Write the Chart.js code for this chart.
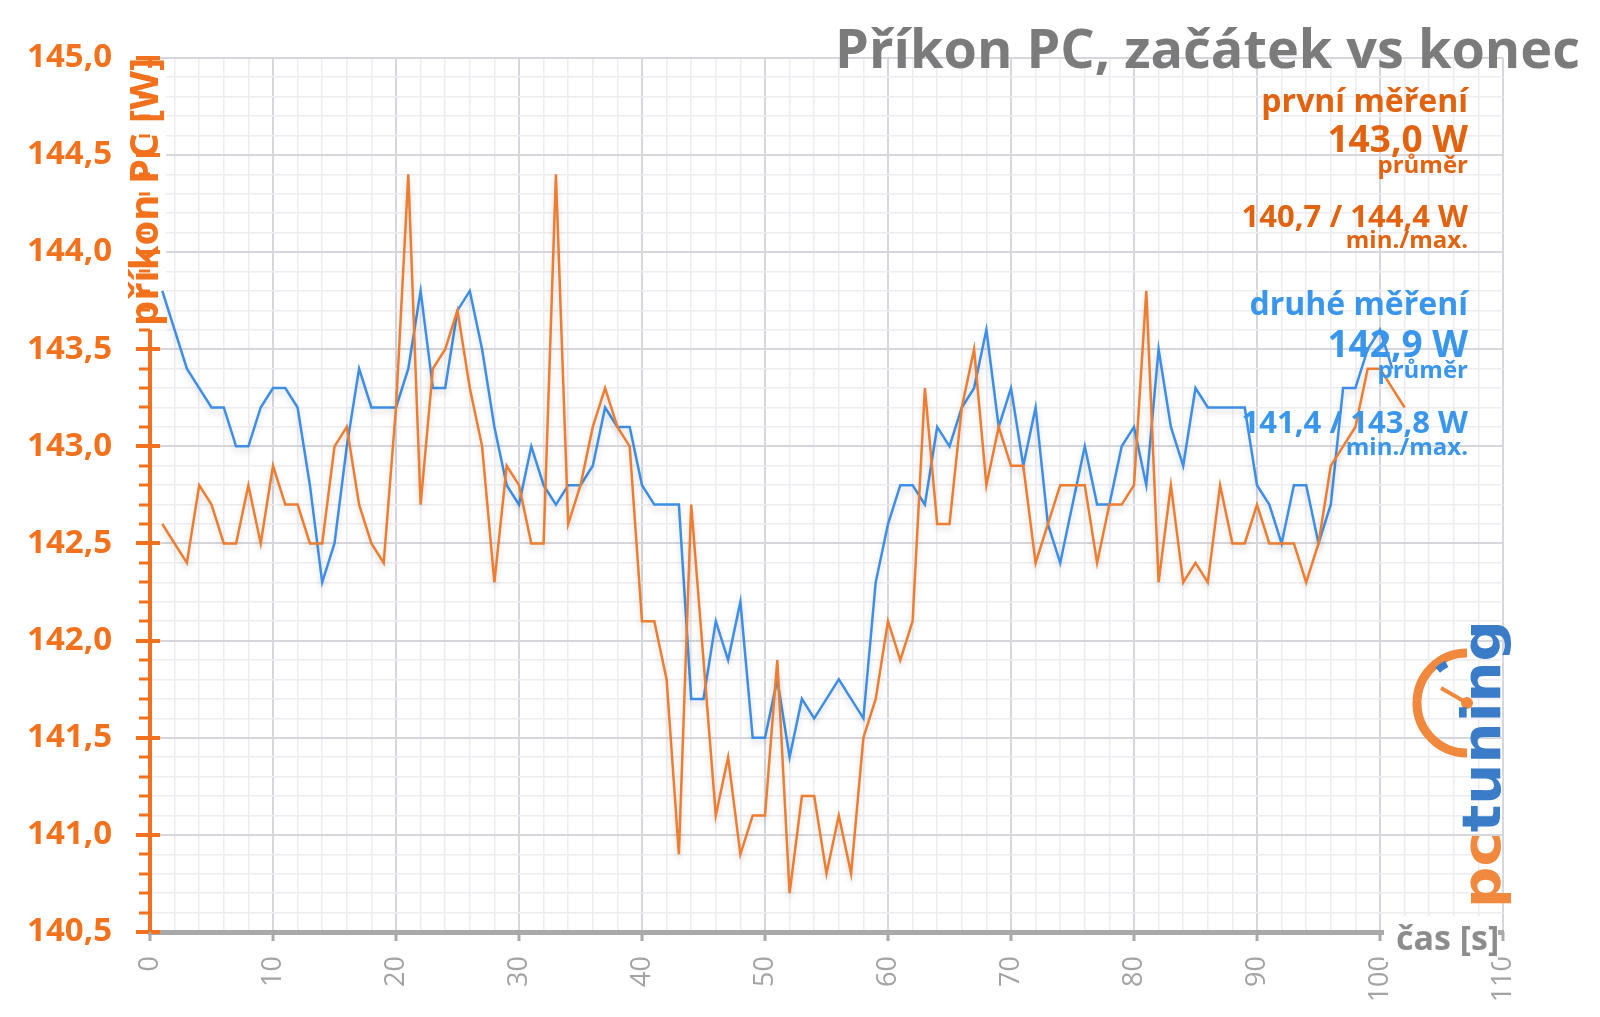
<!DOCTYPE html>
<html lang="cs">
<head>
<meta charset="utf-8">
<title>Příkon PC, začátek vs konec</title>
<script src="https://cdn.jsdelivr.net/npm/chart.js@4.4.1/dist/chart.umd.min.js"></script>
<style>
    html, body { margin: 0; padding: 0; background: #fff; }
    #wrap { width: 1600px; height: 1017px; }
</style>
</head>
<body>
<div id="wrap"><canvas id="chart" width="1600" height="1017"></canvas></div>
<script>
// Příkon PC - první vs druhé měření (W), čas v sekundách

const seconds = [
    1, 2, 3, 4, 5, 6, 7, 8, 9, 10, 11, 12, 13, 14, 15, 16, 17, 18, 19, 20,
    21, 22, 23, 24, 25, 26, 27, 28, 29, 30, 31, 32, 33, 34, 35, 36, 37, 38, 39, 40,
    41, 42, 43, 44, 45, 46, 47, 48, 49, 50, 51, 52, 53, 54, 55, 56, 57, 58, 59, 60,
    61, 62, 63, 64, 65, 66, 67, 68, 69, 70, 71, 72, 73, 74, 75, 76, 77, 78, 79, 80,
    81, 82, 83, 84, 85, 86, 87, 88, 89, 90, 91, 92, 93, 94, 95, 96, 97, 98, 99, 100,
    101, 102
];

const firstRun = [
    142.6, 142.5, 142.4, 142.8, 142.7, 142.5, 142.5, 142.8, 142.5, 142.9,
    142.7, 142.7, 142.5, 142.5, 143.0, 143.1, 142.7, 142.5, 142.4, 143.2,
    144.4, 142.7, 143.4, 143.5, 143.7, 143.3, 143.0, 142.3, 142.9, 142.8,
    142.5, 142.5, 144.4, 142.6, 142.8, 143.1, 143.3, 143.1, 143.0, 142.1,
    142.1, 141.8, 140.9, 142.7, 141.9, 141.1, 141.4, 140.9, 141.1, 141.1,
    141.9, 140.7, 141.2, 141.2, 140.8, 141.1, 140.8, 141.5, 141.7, 142.1,
    141.9, 142.1, 143.3, 142.6, 142.6, 143.2, 143.5, 142.8, 143.1, 142.9,
    142.9, 142.4, 142.6, 142.8, 142.8, 142.8, 142.4, 142.7, 142.7, 142.8,
    143.8, 142.3, 142.8, 142.3, 142.4, 142.3, 142.8, 142.5, 142.5, 142.7,
    142.5, 142.5, 142.5, 142.3, 142.5, 142.9, 143.0, 143.1, 143.4, 143.4,
    143.3, 143.2
];

const secondRun = [
    143.8, 143.6, 143.4, 143.3, 143.2, 143.2, 143.0, 143.0, 143.2, 143.3,
    143.3, 143.2, 142.8, 142.3, 142.5, 143.0, 143.4, 143.2, 143.2, 143.2,
    143.4, 143.8, 143.3, 143.3, 143.7, 143.8, 143.5, 143.1, 142.8, 142.7,
    143.0, 142.8, 142.7, 142.8, 142.8, 142.9, 143.2, 143.1, 143.1, 142.8,
    142.7, 142.7, 142.7, 141.7, 141.7, 142.1, 141.9, 142.2, 141.5, 141.5,
    141.8, 141.4, 141.7, 141.6, 141.7, 141.8, 141.7, 141.6, 142.3, 142.6,
    142.8, 142.8, 142.7, 143.1, 143.0, 143.2, 143.3, 143.6, 143.1, 143.3,
    142.9, 143.2, 142.6, 142.4, 142.7, 143.0, 142.7, 142.7, 143.0, 143.1,
    142.8, 143.5, 143.1, 142.9, 143.3, 143.2, 143.2, 143.2, 143.2, 142.8,
    142.7, 142.5, 142.8, 142.8, 142.5, 142.7, 143.3, 143.3, 143.5, 143.6,
    143.4
];

// summary texts on the right
const firstStats = ['první měření', '143,0 W', 'průměr', '140,7 / 144,4 W', 'min./max.'];
const secondStats = ['druhé měření', '142,9 W', 'průměr', '141,4 / 143,8 W', 'min./max.'];

const FONT = "'Open Sans', 'Noto Sans', sans-serif";
const Y_TITLE = 'příkon PC [W]';
const COLORS = {
    orange: '#ed7d31',
    blue: '#3d8ee4',
    axisOrange: '#f2711c',
    textOrange: '#e2630f',
    textBlue: '#3a96ea',
    title: '#7b7b7b',
    gridMajor: '#d6d7dd',
    gridMinor: '#ececf1',
    xAxis: '#a9a9a9',
    xLabels: '#a3a3a3'
};

function isMajorY(v) { return Math.abs(v * 2 - Math.round(v * 2)) < 1e-6; }
function isMajorX(v) { return Math.round(v) % 10 === 0; }

// white strip behind the y title (under the lines), then soft shadow for lines
const lineShadow = {
    id: 'lineShadow',
    beforeDatasetsDraw(chart) {
        const { ctx, chartArea } = chart;
        ctx.save();
        ctx.translate(chartArea.left - 3, chartArea.top);
        ctx.rotate(-Math.PI / 2);
        ctx.font = `bold 40px ${FONT}`;
        const w = ctx.measureText(Y_TITLE).width;
        ctx.fillStyle = '#fff';
        ctx.fillRect(-w - 4, -19, w - 6, 38);
        ctx.restore();

        ctx.save();
        ctx.shadowColor = 'rgba(0, 0, 0, 0.16)';
        ctx.shadowBlur = 6;
        ctx.shadowOffsetY = 4;
    },
    afterDatasetsDraw(chart) {
        chart.ctx.restore();
    }
};

// axis ticks, titles, summary texts and logo
const decorations = {
    id: 'decorations',
    afterDraw(chart) {
        const { ctx, chartArea } = chart;
        const x = chart.scales.x;
        const y = chart.scales.y;
        ctx.save();

        // y axis tick marks
        ctx.strokeStyle = COLORS.axisOrange;
        y.ticks.forEach(t => {
            const py = Math.round(y.getPixelForValue(t.value));
            const major = isMajorY(t.value);
            ctx.lineWidth = major ? 4 : 3;
            ctx.beginPath();
            ctx.moveTo(chartArea.left - (major ? 14 : 11), py);
            ctx.lineTo(chartArea.left + (major ? 10 : 0), py);
            ctx.stroke();
        });

        // x axis tick marks
        ctx.strokeStyle = COLORS.xAxis;
        ctx.lineWidth = 3;
        x.ticks.forEach(t => {
            if (!isMajorX(t.value)) return;
            const px = Math.round(x.getPixelForValue(t.value));
            ctx.beginPath();
            ctx.moveTo(px, chartArea.bottom);
            ctx.lineTo(px, chartArea.bottom + 9);
            ctx.stroke();
        });

        // x axis title on white box
        ctx.fillStyle = '#fff';
        ctx.fillRect(1384, 916, 114, 46);
        ctx.fillStyle = '#8c8c8c';
        ctx.font = `bold 34px ${FONT}`;
        ctx.textAlign = 'left';
        ctx.textBaseline = 'alphabetic';
        ctx.fillText('čas [s]', 1396, 950);

        // y axis title, reading upwards
        ctx.save();
        ctx.translate(chartArea.left - 3, chartArea.top);
        ctx.rotate(-Math.PI / 2);
        ctx.font = `bold 40px ${FONT}`;
        ctx.fillStyle = COLORS.axisOrange;
        ctx.textAlign = 'right';
        ctx.textBaseline = 'middle';
        ctx.fillText(Y_TITLE, 0, 0);
        ctx.restore();

        // main title
        ctx.fillStyle = COLORS.title;
        ctx.font = `bold 54px ${FONT}`;
        ctx.textAlign = 'right';
        ctx.textBaseline = 'alphabetic';
        ctx.fillText('Příkon PC, začátek vs konec', 1580, 68);

        // summary blocks
        const sizes = [32, 37, 24, 31, 24];
        const firstBase = [112, 152, 173, 227, 248];
        const secondBase = [315, 357, 378, 433, 455];
        const drawBlock = (texts, bases, color) => {
            ctx.fillStyle = color;
            texts.forEach((t, i) => {
                ctx.font = `bold ${sizes[i]}px ${FONT}`;
                ctx.fillText(t, 1468, bases[i]);
            });
        };
        drawBlock(firstStats, firstBase, COLORS.textOrange);
        drawBlock(secondStats, secondBase, COLORS.textBlue);

        // pctuning logo
        const cx = 1467, cy = 703, r = 50;
        ctx.lineCap = 'butt';
        ctx.strokeStyle = '#f0883e';
        ctx.lineWidth = 9;
        ctx.beginPath();
        ctx.arc(cx, cy, r, -Math.PI / 2, Math.PI / 2, true);
        ctx.stroke();
        ctx.strokeStyle = '#3a7cc8';
        ctx.lineWidth = 7;
        ctx.beginPath();
        ctx.arc(cx, cy, r - 6, -2.3, -2.05);
        ctx.stroke();
        ctx.strokeStyle = '#f0883e';
        ctx.lineWidth = 4;
        ctx.beginPath();
        ctx.moveTo(cx - 26, cy - 15);
        ctx.lineTo(cx, cy);
        ctx.stroke();
        ctx.fillStyle = '#f0883e';
        ctx.beginPath();
        ctx.arc(cx, cy, 6, 0, Math.PI * 2);
        ctx.fill();

        ctx.save();
        ctx.translate(1500, 908);
        ctx.rotate(-Math.PI / 2);
        ctx.font = `bold 54px 'DejaVu Sans', sans-serif`;
        ctx.textAlign = 'left';
        ctx.textBaseline = 'alphabetic';
        const wPc = ctx.measureText('pc').width;
        const wAll = ctx.measureText('pctuning').width;
        ctx.scale(288 / wAll, 1);
        ctx.fillStyle = '#f0883e';
        ctx.fillText('pc', 0, 0);
        ctx.fillStyle = '#3a7cc8';
        ctx.fillText('tuning', wPc, 0);
        ctx.restore();

        ctx.restore();
    }
};

new Chart(document.getElementById('chart'), {
    type: 'line',
    data: {
        labels: seconds,
        datasets: [{
            label: 'první měření',
            data: firstRun,
            borderColor: COLORS.orange,
            borderWidth: 2.5,
            pointRadius: 0,
            tension: 0,
            fill: false
        }, {
            label: 'druhé měření',
            data: secondRun,
            borderColor: COLORS.blue,
            borderWidth: 2.5,
            pointRadius: 0,
            tension: 0,
            fill: false
        }]
    },
    options: {
        responsive: false,
        animation: false,
        devicePixelRatio: 1,
        layout: { padding: { left: 0, right: 97, top: 48, bottom: 0 } },
        plugins: {
            legend: { display: false },
            tooltip: { enabled: false }
        },
        scales: {
            x: {
                type: 'linear',
                min: 0,
                max: 110,
                afterFit: scale => { scale.height = 85; },
                border: { color: COLORS.xAxis, width: 5 },
                grid: {
                    drawTicks: false,
                    color: c => isMajorX(c.tick.value) ? COLORS.gridMajor : COLORS.gridMinor,
                    lineWidth: c => isMajorX(c.tick.value) ? 2 : 1.5
                },
                ticks: {
                    stepSize: 2,
                    autoSkip: false,
                    maxRotation: 90,
                    minRotation: 90,
                    padding: 24,
                    color: COLORS.xLabels,
                    font: { family: FONT, size: 27 },
                    callback: v => isMajorX(v) ? String(v) : ''
                }
            },
            y: {
                min: 140.5,
                max: 145,
                afterFit: scale => { scale.width = 150; },
                border: { color: COLORS.axisOrange, width: 4 },
                grid: {
                    drawTicks: false,
                    color: c => isMajorY(c.tick.value) ? COLORS.gridMajor : COLORS.gridMinor,
                    lineWidth: c => isMajorY(c.tick.value) ? 2 : 1.5
                },
                ticks: {
                    stepSize: 0.1,
                    maxTicksLimit: 100,
                    autoSkip: false,
                    padding: 38,
                    color: COLORS.axisOrange,
                    font: { family: FONT, size: 33, weight: 'bold' },
                    callback: v => isMajorY(v) ? v.toFixed(1).replace('.', ',') : ''
                }
            }
        }
    },
    plugins: [lineShadow, decorations]
});
</script>
</body>
</html>
